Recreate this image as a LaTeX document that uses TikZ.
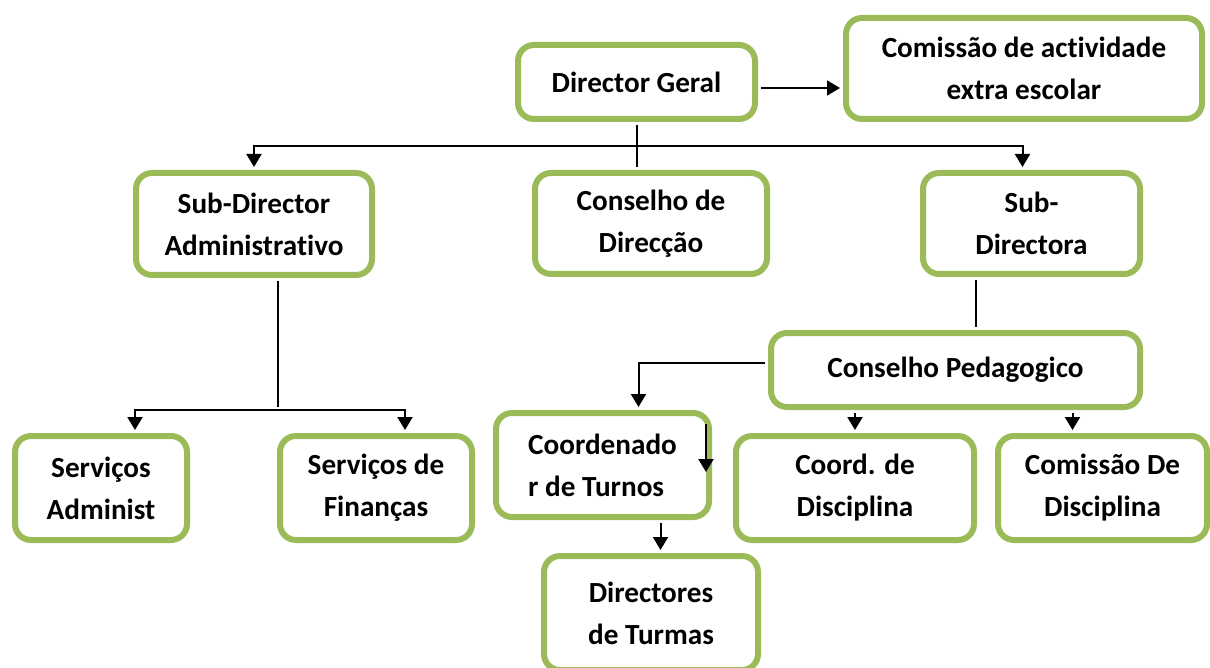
\documentclass[tikz,border=0pt]{standalone}
\usepackage{fontspec}
\setmainfont{Carlito}[Ligatures=NoCommon]
\usetikzlibrary{calc,arrows.meta}

\definecolor{boxgreen}{HTML}{9BBB59}

\begin{document}
\begin{tikzpicture}[
  x=0.5pt, y=-0.5pt,
  every node/.style={font=\bfseries\fontsize{14.6}{21}\selectfont},
  unit/.style={draw=boxgreen, line width=3pt, rounded corners=8pt,
    fill=white, inner sep=0pt, align=center},
  link/.style={draw, line width=1pt, shorten <=1.5pt, shorten >=1.5pt},
  arrow/.style={link, -{Triangle[width=7.5pt,length=6.5pt]}},
  arrows2/.style={link, {Triangle[width=7.5pt,length=6.5pt]}-{Triangle[width=7.5pt,length=6.5pt]}},
]
\useasboundingbox (0,0) rectangle (1210,668);
%-------------------------------------------------------------
% Boxes
\node[unit, minimum width=118.5pt, minimum height=37pt] (dg) at (636.5,82) {Director Geral};
\node[unit, minimum width=178pt, minimum height=50.5pt] (com) at (1024,68.5) {Comissão de actividade\\extra escolar};

\node[unit, minimum width=118pt, minimum height=51pt] (sda) at (254,224) {Sub-Director\\Administrativo};
\node[unit, minimum width=116pt, minimum height=50.5pt] (cdir) at (651,223.5) {Conselho de\\Direcção};
\node[unit, minimum width=108.5pt, minimum height=50.5pt] (sdra) at (1031.5,223.5) {Sub-\\Directora};

\node[unit, minimum width=184.5pt, minimum height=37pt] (cp) at (955.5,370) {Conselho Pedagogico};

\node[unit, minimum width=86pt, minimum height=52pt] (sa) at (101,488) {Serviços\\Administ};
\node[unit, minimum width=96pt, minimum height=52pt] (sf) at (376,488) {Serviços de\\Finanças};
\node[unit, minimum width=106.5pt, minimum height=52pt, align=left] (ct) at (602.5,465) {Coordenado\\r de Turnos};
\node[unit, minimum width=119pt, minimum height=52pt] (cdd) at (855,488) {Coord. de\\Disciplina};
\node[unit, minimum width=104.5pt, minimum height=52pt] (cmd) at (1102.5,488) {Comissão De\\Disciplina};

\node[unit, minimum width=107pt, minimum height=57pt] (dt) at (651,613) {Directores\\de Turmas};

%-------------------------------------------------------------
% Helper points
\coordinate (bus) at (0,146);
\coordinate (sbus) at (0,410);
\coordinate (dgR) at ($(dg.east)+(0,6)$);
\coordinate (sdraIn) at ($(sdra.north)+(-9,0)$);
\coordinate (sdraOut) at ($(sdra.south)+(-56,0)$);
\coordinate (cpL) at ($(cp.west)+(0,-7)$);
\coordinate (ctIn) at ($(ct.north)+(36,0)$);
\coordinate (ctOut) at ($(ct.south)+(58,0)$);
\coordinate (cmdIn) at ($(cmd.north)+(-30,0)$);
\coordinate (sdaOut) at ($(sda.south)+(24,0)$);
\coordinate (saIn) at ($(sa.north)+(34,0)$);
\coordinate (sfIn) at ($(sf.north)+(29,0)$);
\coordinate (ctA) at ($(ct.north east)+(-6,14)$);
\coordinate (ctB) at ($(ct.north east)+(-6,62)$);

%-------------------------------------------------------------
% Connectors
\draw[arrow] (dgR) -- (dgR -| com.west);
\draw[link] (dg.south) -- (dg.south |- cdir.north);
\draw[arrows2] (sda.north) -- (sda.north |- bus) -- (sdraIn |- bus) -- (sdraIn);

\draw[link] (sdraOut) -- (sdraOut |- cp.north);
\draw[arrow] (cpL) -- (cpL -| ctIn) -- (ctIn);
\draw[arrow] (cp.south -| cdd.north) -- (cdd.north);
\draw[arrow] (cmdIn |- cp.south) -- (cmdIn);

\draw[link] (sdaOut) -- (sdaOut |- sbus);
\draw[arrows2] (saIn) -- (saIn |- sbus) -- (sfIn |- sbus) -- (sfIn);

\draw[arrow] (ctOut) -- (ctOut |- dt.north);
\draw[arrow, shorten <=0pt, shorten >=0pt] (ctA) -- (ctB);

\end{tikzpicture}
\end{document}
